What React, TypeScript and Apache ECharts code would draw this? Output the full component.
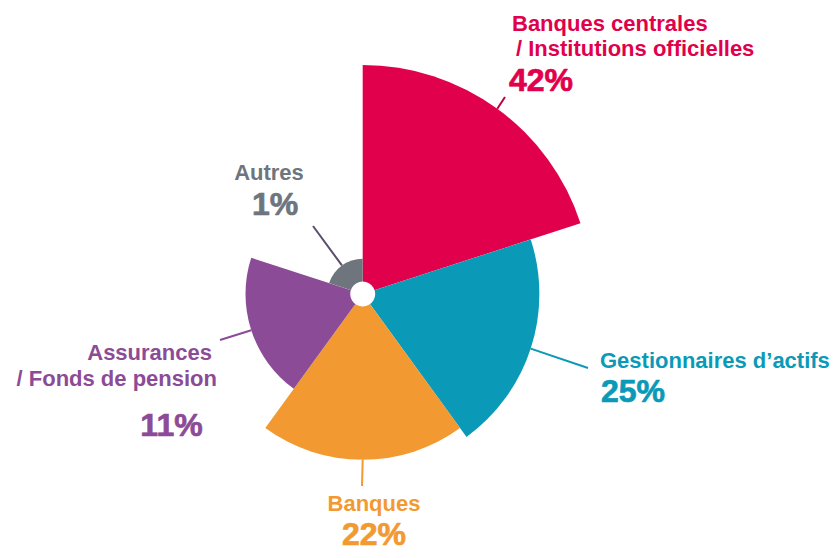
import React, { useEffect, useRef } from "react";
import * as echarts from "echarts";

const categories = [
  "Banques centrales\n/ Institutions officielles",
  "Gestionnaires d’actifs",
  "Banques",
  "Assurances\n/ Fonds de pension",
  "Autres",
];
const shares = [42, 25, 22, 11, 1];
const colors = ["#E1004B", "#0A9AB8", "#F29A31", "#8C4B96", "#6F757D"];
const lineColors = ["#C0003F", "#0A9AB8", "#F29A31", "#8C4B96", "#5B4E6B"];

// label layout (positions only): one anchor per name line, then pct anchor
const nameAnchors = [
  [[512, 23.5], [516, 48.5]],
  [[600, 360.5]],
  [[374, 503.5]],
  [[212, 352], [217, 378]],
  [[269, 172.5]],
];
const nameAlign = ["left", "left", "center", "right", "center"];
const pctAnchors = [
  [509, 80, "left"],
  [601, 391, "left"],
  [374, 534, "center"],
  [171.5, 425, "center"],
  [275, 204, "center"],
];
const leaderEnds = [
  [505, 97],
  [588, 368],
  [362, 486],
  [220, 340],
  [313, 226],
];

const CX = 362.7;
const CY = 294;
const R = 229;
const FONT = "'Liberation Sans', Arial, sans-serif";

export default function App() {
  const ref = useRef<HTMLDivElement>(null);
  useEffect(() => {
    const chart = echarts.init(ref.current!, null, { renderer: "svg" });
    const maxS = Math.max(...shares);
    const n = shares.length;
    const graphics: any[] = [];
    shares.forEach((s, i) => {
      const mid = 90 - (360 / n) * (i + 0.5);
      const r = Math.sqrt(s / maxS) * R;
      const a = (mid * Math.PI) / 180;
      const x1 = CX + r * Math.cos(a);
      const y1 = CY - r * Math.sin(a);
      graphics.push({
        type: "line",
        shape: { x1, y1, x2: leaderEnds[i][0], y2: leaderEnds[i][1] },
        style: { stroke: lineColors[i], lineWidth: 2 },
        z: 10,
      });
      categories[i].split("\n").forEach((line, k) => {
        const [x, y] = nameAnchors[i][k];
        graphics.push({
          type: "text",
          x,
          y,
          style: {
            text: line,
            fill: colors[i],
            font: `bold 22px ${FONT}`,
            align: nameAlign[i],
            verticalAlign: "middle",
          },
          z: 10,
        });
      });
      const [px, py, pa] = pctAnchors[i] as [number, number, string];
      graphics.push({
        type: "text",
        x: px,
        y: py,
        style: {
          text: s + "%",
          fill: colors[i],
          stroke: colors[i],
          lineWidth: 0.7,
          font: `bold 32px ${FONT}`,
          align: pa,
          verticalAlign: "middle",
        },
        z: 10,
      });
    });
    graphics.push({
      type: "circle",
      shape: { cx: CX, cy: CY, r: 12.5 },
      style: { fill: "#ffffff" },
      z: 20,
    });
    chart.setOption({
      animation: false,
      backgroundColor: "#ffffff",
      series: [
        {
          type: "pie",
          roseType: "area",
          center: [CX, CY],
          radius: [0, R],
          startAngle: 90,
          clockwise: true,
          label: { show: false },
          labelLine: { show: false },
          itemStyle: { borderWidth: 0 },
          emphasis: { disabled: true },
          data: shares.map((s, i) => ({
            name: categories[i],
            value: Math.sqrt(s),
            itemStyle: { color: colors[i] },
          })),
        },
      ],
      graphic: graphics,
    });
    return () => chart.dispose();
  }, []);
  return (
    <div
      ref={ref}
      style={{ position: "fixed", left: 0, top: 0, width: 837, height: 558 }}
    />
  );
}
